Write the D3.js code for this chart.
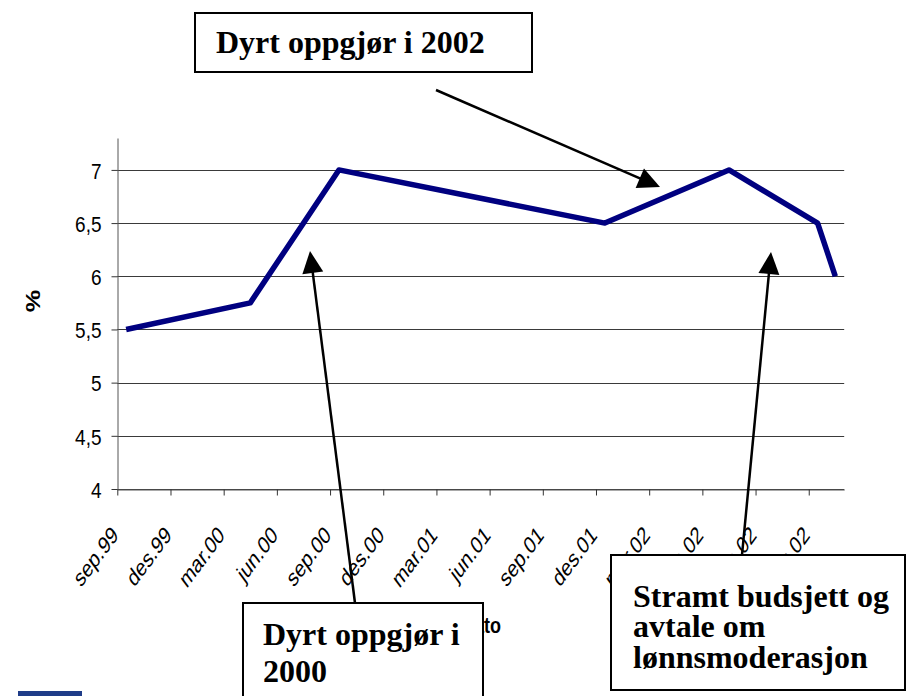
<!DOCTYPE html>
<html>
<head>
<meta charset="utf-8">
<script src="https://cdn.jsdelivr.net/npm/d3@7"></script>
<style>
  html, body { margin: 0; padding: 0; background: #ffffff; }
  svg { display: block; }
</style>
</head>
<body>
<svg id="chart" width="907" height="696"></svg>
<script>
// ---- Data ----
// month index counted from sep.99 (= 0); points sit in the middle of the month
const monthIndex = [0, 7, 9, 12, 27, 34, 39, 40];
const rateValues = [5.5, 5.75, 6.25, 7.0, 6.5, 7.0, 6.5, 6.0];
const xTickMonths = [0, 3, 6, 9, 12, 15, 18, 21, 24, 27, 30, 33, 36, 39];
const xTickLabels = ["sep.99", "des.99", "mar.00", "jun.00", "sep.00", "des.00", "mar.01",
                     "jun.01", "sep.01", "des.01", "mar.02", "jun.02", "sep.02", "des.02"];
const yTickValues = [4, 4.5, 5, 5.5, 6, 6.5, 7];
const yTickLabels = ["4", "4,5", "5", "5,5", "6", "6,5", "7"];
const yAxisTitle = "%";
const xAxisTitle = "Dato";
const noteTop = ["Dyrt oppgjør i 2002"];
const noteLeft = ["Dyrt oppgjør i", "2000"];
const noteRight = ["Stramt budsjett og", "avtale om", "lønnsmoderasjon"];

// ---- Layout ----
const svg = d3.select("#chart");
const plot = { left: 117.3, right: 844.2, top: 138, bottom: 489 };
const x = d3.scaleLinear().domain([0, 41]).range([plot.left, plot.right]);
const y = d3.scaleLinear().domain([4, 7.3]).range([plot.bottom, plot.top]);

const sans = "'Liberation Sans', Arial, sans-serif";
const serif = "'Liberation Serif', 'Times New Roman', serif";
const stretch = 1.2;   // chart picture is stretched vertically
const xStretch = 1.35; // rotated category labels

// gridlines
svg.append("g").selectAll("line").data(yTickValues).join("line")
  .attr("x1", plot.left).attr("x2", plot.right)
  .attr("y1", d => Math.round(y(d)) + 0.5).attr("y2", d => Math.round(y(d)) + 0.5)
  .attr("stroke", "#3a3a3a").attr("stroke-width", 1);

// y axis
const yAxis = svg.append("g").attr("transform", `translate(${Math.round(plot.left) + 0.5},0)`)
  .call(d3.axisLeft(y).tickValues(yTickValues).tickSize(6).tickSizeOuter(0)
    .tickFormat((d, i) => yTickLabels[i]));
yAxis.select(".domain").attr("stroke", "#555");
yAxis.selectAll(".tick line").attr("stroke", "#333");
yAxis.selectAll(".tick text")
  .attr("x", null).attr("dy", null)
  .attr("transform", `translate(-16,8.2) scale(1,${stretch})`)
  .attr("text-anchor", "end")
  .attr("fill", "#000")
  .style("font-family", sans).style("font-size", "19px");

// x axis
const xAxis = svg.append("g").attr("transform", `translate(0,${Math.round(plot.bottom) + 0.5})`)
  .call(d3.axisBottom(x).tickValues(xTickMonths).tickSize(6).tickSizeOuter(0)
    .tickFormat((d, i) => xTickLabels[i]));
xAxis.select(".domain").attr("stroke", "#555");
xAxis.selectAll(".tick line").attr("stroke", "#333");
xAxis.selectAll(".tick text")
  .attr("y", null).attr("dy", null)
  .attr("transform", `translate(1.5,47) scale(1,${xStretch}) rotate(-45)`)
  .attr("text-anchor", "end")
  .attr("fill", "#000")
  .style("font-family", sans).style("font-size", "18px");

// axis titles
svg.append("text")
  .attr("transform", `translate(39.5,301) scale(1,${stretch}) rotate(-90)`)
  .attr("text-anchor", "middle")
  .style("font-family", sans).style("font-size", "21px").style("font-weight", "bold")
  .text(yAxisTitle);
svg.append("text")
  .attr("transform", `translate(481,633) scale(1,${stretch})`)
  .attr("text-anchor", "middle")
  .style("font-family", sans).style("font-size", "18px").style("font-weight", "bold")
  .text(xAxisTitle);

// data line
const pts = monthIndex.map((m, i) => [m + 0.5, rateValues[i]]);
svg.append("path")
  .datum(pts)
  .attr("fill", "none")
  .attr("stroke", "#000080")
  .attr("stroke-width", 5.5)
  .attr("stroke-linejoin", "round")
  .attr("d", d3.line().x(d => x(d[0])).y(d => y(d[1])));

// ---- Annotations ----
function arrow(x0, y0, x1, y1) {
  const dx = x1 - x0, dy = y1 - y0, len = Math.hypot(dx, dy);
  const ux = dx / len, uy = dy / len, nx = -uy, ny = ux;
  const L = 22, W = 21;
  const bx = x1 - L * ux, by = y1 - L * uy;
  svg.append("line").attr("x1", x0).attr("y1", y0).attr("x2", bx + 2 * ux).attr("y2", by + 2 * uy)
    .attr("stroke", "#000").attr("stroke-width", 2.5);
  svg.append("polygon")
    .attr("points", [[x1, y1], [bx + nx * W / 2, by + ny * W / 2], [bx - nx * W / 2, by - ny * W / 2]].join(" "))
    .attr("fill", "#000");
}
function box(x0, y0, w, h, lines, tx, baselines) {
  svg.append("rect").attr("x", x0).attr("y", y0).attr("width", w).attr("height", h)
    .attr("fill", "#fff").attr("stroke", "#000").attr("stroke-width", 2);
  lines.forEach((t, i) => {
    svg.append("text").attr("x", tx).attr("y", baselines[i])
      .style("font-family", serif).style("font-size", "32px").style("font-weight", "bold")
      .attr("fill", "#000").text(t);
  });
}

arrow(436, 90, 660, 187);
arrow(355, 603, 310, 251);
arrow(742, 555, 771, 252);

box(195, 13, 337, 59, noteTop, 216, [53]);
box(243, 603, 240, 110, noteLeft, 263, [645, 682]);
box(611, 555, 294, 135, noteRight, 633, [607, 637, 668]);

// small blue slide element at bottom left
svg.append("rect").attr("x", 18).attr("y", 691).attr("width", 64).attr("height", 5).attr("fill", "#1f3c88");
</script>
</body>
</html>
